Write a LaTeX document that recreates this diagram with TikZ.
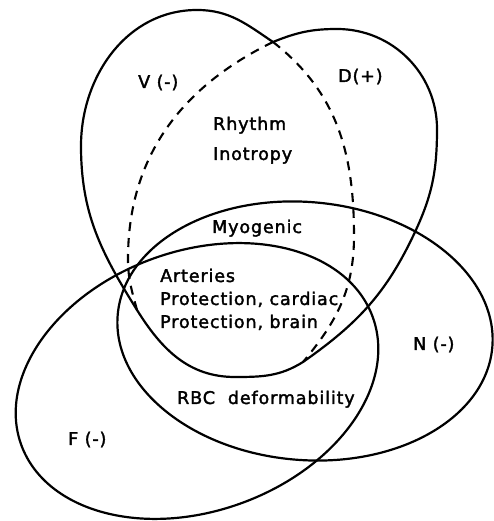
\documentclass[tikz,border=0pt]{standalone}
\usepackage{fontspec}
\setmainfont[LetterSpace=5,FakeBold=2]{DejaVu Sans}
\tikzset{
  outline/.style={line width=2.2pt, line join=round},
  hidden/.style={line width=2.1pt, dash pattern=on 9pt off 7pt},
  setlabel/.style={anchor=base west, inner sep=0pt, font=\fontsize{17.5}{20}\selectfont},
}
\begin{document}
\begin{tikzpicture}[x=1pt,y=1pt]
\useasboundingbox (0,0) rectangle (494,521);
\coordinate (cleft) at (273,479);
\coordinate (vtip) at (137,211);
\coordinate (dtip) at (303,159);
% N and F
\draw[outline, rotate around={-5:(305,190)}] (305,190) ellipse[x radius=188pt, y radius=129pt];
\draw[outline, rotate around={20:(197,140)}] (197,140) ellipse[x radius=187pt, y radius=130pt];
% V and D, outer border
\draw[outline] (cleft) to[out=22,in=180] (337,492) to[out=0,in=90] (437,392)
  to[out=-90,in=65] (415,289) to[out=245,in=35] (dtip) to[out=212,in=0] (235,144)
  to[out=180,in=-58] (vtip) to[out=122,in=-90] (81,375) to[out=90,in=180] (197,511)
  to[out=0,in=146] (cleft);
% inner sides
\draw[hidden] (cleft) to[out=-38,in=90] (354,285) to[out=-90,in=50] (dtip);
\draw[hidden] (cleft) to[out=206,in=90] (128,262) to[out=-90,in=105] (vtip);
% labels
\node[setlabel] (vlab) at (138,433) {V (-)};
\node[setlabel] (dlab) at (338,439) {D(+)};
\node[setlabel] (nlab) at (413,171) {N (-)};
\node[setlabel] (flab) at (68,76) {F (-)};
\node[setlabel] (rhythm) at (213,391) {Rhythm};
\node[setlabel] (inotropy) at (213,361) {Inotropy};
\node[setlabel] (myogenic) at (212,288) {Myogenic};
\node[setlabel] (arteries) at (160,239) {Arteries};
\node[setlabel] (cardiac) at (160,216) {Protection, cardiac};
\node[setlabel] (brain) at (160,193) {Protection, brain};
\node[setlabel] (rbc) at (177,117) {RBC\ \ deformability};
\end{tikzpicture}
\end{document}
